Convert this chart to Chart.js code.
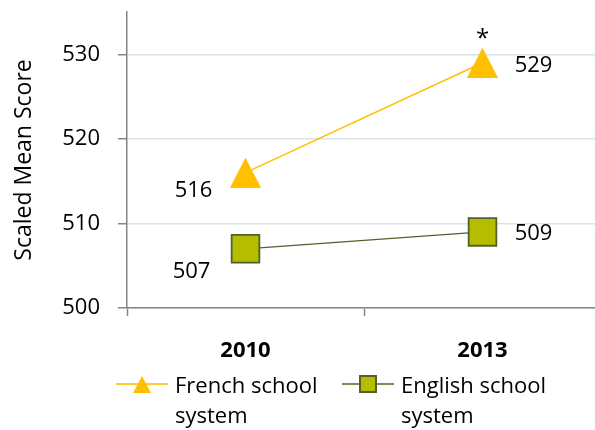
<!DOCTYPE html>
<html>
<head>
<meta charset="utf-8">
<script src="https://cdn.jsdelivr.net/npm/chart.js@4.4.1/dist/chart.umd.min.js"></script>
<style>
  html, body { margin: 0; padding: 0; background: #fff; overflow: hidden; }
  #wrap { width: 602px; height: 430px; position: relative; }
</style>
</head>
<body>
<div id="wrap"><canvas id="chart"></canvas></div>
<script>
const years = ['2010', '2013'];
const frenchScores = [516, 529];
const englishScores = [507, 509];
const seriesNames = [['French school', 'system'], ['English school', 'system']];
const yTicks = [500, 510, 520, 530];
const frenchSignificant = [false, true]; // '*' over the point

const FONT = "'Open Sans', sans-serif";
const GOLD = '#FFC000';
const OLIVE_FILL = '#B5BD00';
const OLIVE_LINE = '#4F6228';
const AXIS = '#868686';

// triangle marker as a small canvas so it sits centred on the point
function makeTriangle(w, h, color) {
  const c = document.createElement('canvas');
  c.width = w; c.height = h;
  const g = c.getContext('2d');
  g.fillStyle = color;
  g.beginPath();
  g.moveTo(w / 2, 0);
  g.lineTo(w, h);
  g.lineTo(0, h);
  g.closePath();
  g.fill();
  return c;
}
const bigTriangle = makeTriangle(31, 30, GOLD);

// value labels next to the points, offsets per series / point
const labelOffsets = [
  [[-52, 16], [51, 1]],
  [[-54, 21], [51, 0]]
];

const valueLabels = {
  id: 'valueLabels',
  afterDatasetsDraw(chart) {
    const ctx = chart.ctx;
    ctx.save();
    ctx.fillStyle = '#000';
    ctx.textAlign = 'center';
    ctx.textBaseline = 'alphabetic';
    ctx.font = '22px ' + FONT;
    chart.data.datasets.forEach((ds, i) => {
      chart.getDatasetMeta(i).data.forEach((pt, j) => {
        const off = labelOffsets[i][j];
        ctx.fillText(String(ds.data[j]), pt.x + off[0], pt.y + off[1] + 8);
      });
    });
    // significance star above French points
    chart.getDatasetMeta(0).data.forEach((pt, j) => {
      if (frenchSignificant[j]) {
        ctx.font = '24px ' + FONT;
        ctx.fillText('*', pt.x, pt.y - 17);
      }
    });
    ctx.restore();
  }
};

// two-line legend drawn under the axis
const wrapLegend = {
  id: 'wrapLegend',
  afterDraw(chart) {
    const ctx = chart.ctx;
    const items = [
      { x: 116, ds: chart.data.datasets[0] },
      { x: 342, ds: chart.data.datasets[1] }
    ];
    const y = 384;
    ctx.save();
    items.forEach((it, i) => {
      ctx.strokeStyle = i === 0 ? '#FFCC33' : '#7D8C5A';
      ctx.lineWidth = 2;
      ctx.beginPath();
      ctx.moveTo(it.x, y);
      ctx.lineTo(it.x + 52, y);
      ctx.stroke();
      const cx = it.x + 26;
      if (i === 0) {
        ctx.fillStyle = GOLD;
        ctx.beginPath();
        ctx.moveTo(cx, y - 8);
        ctx.lineTo(cx + 9, y + 9);
        ctx.lineTo(cx - 9, y + 9);
        ctx.closePath();
        ctx.fill();
      } else {
        ctx.fillStyle = OLIVE_FILL;
        ctx.strokeStyle = OLIVE_LINE;
        ctx.lineWidth = 2;
        ctx.fillRect(cx - 8, y - 8, 16, 16);
        ctx.strokeRect(cx - 8, y - 8, 16, 16);
      }
      ctx.fillStyle = '#000';
      ctx.font = '22px ' + FONT;
      ctx.textAlign = 'left';
      ctx.textBaseline = 'alphabetic';
      seriesNames[i].forEach((line, k) => {
        ctx.fillText(line, it.x + 59, y + 9 + k * 30);
      });
    });
    ctx.restore();
  }
};

new Chart(document.getElementById('chart'), {
  type: 'line',
  data: {
    labels: years,
    datasets: [
      {
        label: seriesNames[0].join(' '),
        data: frenchScores,
        borderColor: GOLD,
        borderWidth: 1.5,
        pointStyle: bigTriangle,
        pointRadius: 16,
        pointHoverRadius: 16,
        backgroundColor: GOLD
      },
      {
        label: seriesNames[1].join(' '),
        data: englishScores,
        borderColor: OLIVE_LINE,
        borderWidth: 1.2,
        pointStyle: 'rect',
        pointRadius: 19.6,
        pointHoverRadius: 19.6,
        pointBackgroundColor: OLIVE_FILL,
        pointBorderColor: OLIVE_LINE,
        pointBorderWidth: 1.8
      }
    ]
  },
  options: {
    responsive: true,
    maintainAspectRatio: false,
    animation: false,
    layout: { autoPadding: false, padding: { top: 12, left: 0, right: 1, bottom: 62 } },
    plugins: {
      legend: { display: false },
      tooltip: { enabled: false }
    },
    scales: {
      x: {
        offset: true,
        grid: {
          offset: true,
          drawOnChartArea: false,
          tickLength: 8,
          tickColor: AXIS,
          tickWidth: 1.5
        },
        border: { color: AXIS, width: 1.5 },
        ticks: {
          color: '#000',
          padding: 22,
          font: { family: FONT, size: 22, weight: 'bold' }
        },
        afterFit: (s) => { s.height = 60; s.paddingLeft = 0; s.paddingRight = 0; }
      },
      y: {
        min: 500,
        max: 535,
        afterBuildTicks: (s) => { s.ticks = yTicks.map(v => ({ value: v })); },
        grid: {
          color: '#D9E3EA',
          lineWidth: 1.5,
          tickLength: 9,
          tickColor: AXIS,
          tickWidth: 1.5
        },
        border: { color: AXIS, width: 1.5 },
        ticks: {
          color: '#000',
          padding: 18,
          font: { family: FONT, size: 22 }
        },
        title: {
          display: true,
          text: 'Scaled Mean Score',
          color: '#000',
          font: { family: FONT, size: 23 },
          padding: { top: 11, bottom: 0 }
        },
        afterFit: (s) => { s.width = 127; s.paddingTop = 0; s.paddingBottom = 0; }
      }
    }
  },
  plugins: [valueLabels, wrapLegend]
});
</script>
</body>
</html>
